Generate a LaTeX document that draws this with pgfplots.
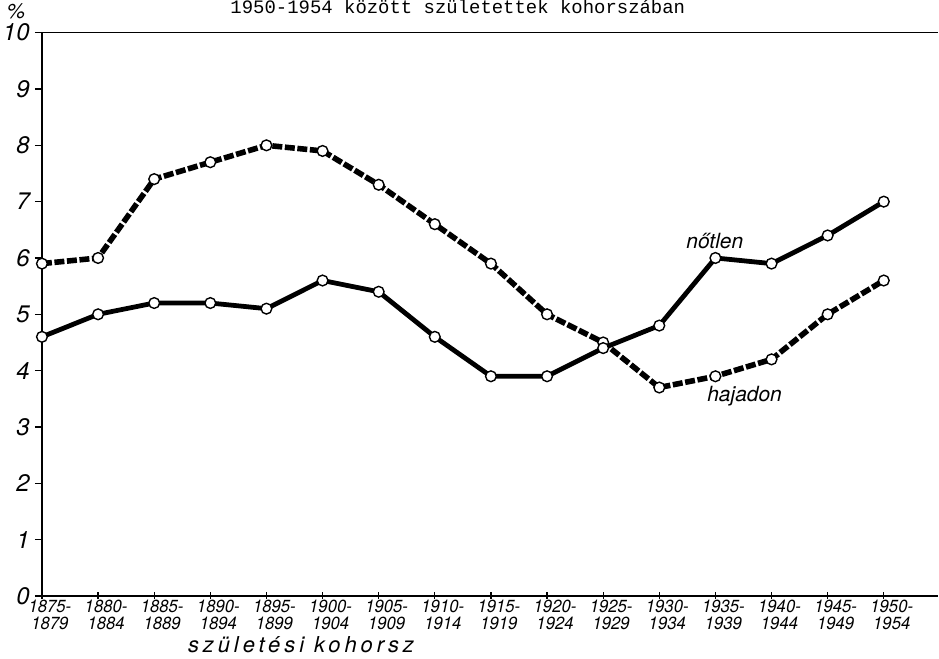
\documentclass[border=0pt]{standalone}
\usepackage{fontspec}
\setmainfont{TeX Gyre Heros}
\setmonofont{Liberation Mono}
\newfontfamily\cond{TeX Gyre Heros}[FakeStretch=0.95]
\newfontfamily\spaced{TeX Gyre Heros}[LetterSpace=18]
\usepackage{pgfplots}
\pgfplotsset{compat=1.18}
\begin{document}
\begin{tikzpicture}
\begin{axis}[
  scale only axis,
  width=449.5pt, height=282.5pt,
  xmin=0, xmax=15.97, ymin=0, ymax=10,
  axis x line*=bottom, axis y line*=left,
  axis line style={-, line width=0.8pt},
  xtick={0,1,...,15},
  xticklabels={{1875-\\1879},{1880-\\1884},{1885-\\1889},{1890-\\1894},{1895-\\1899},{1900-\\1904},{1905-\\1909},{1910-\\1914},{1915-\\1919},{1920-\\1924},{1925-\\1929},{1930-\\1934},{1935-\\1939},{1940-\\1944},{1945-\\1949},{1950-\\1954}},
  x tick label style={font=\cond\itshape\fontsize{8.8}{8.8}\selectfont, align=center, xshift=4pt, yshift=1pt, inner sep=1pt},
  ytick={0,1,...,10},
  y tick label style={font=\itshape\fontsize{12}{12}\selectfont, inner sep=1.5pt, xshift=-1pt},
  /pgf/number format/assume math mode=true,
  x tick style={line width=0.6pt, black},
  y tick style={line width=0.6pt, black},
  xtick align=center, ytick align=outside,
  major tick length=3.5pt,
  clip=false,
]
\addplot[black, line width=2.8pt, dash pattern=on 5pt off 1.3pt,
  mark=*, mark options={solid, fill=white, draw=black, line width=0.7pt, scale=1.35}]
  coordinates {(0,5.9)(1,6.0)(2,7.4)(3,7.7)(4,8.0)(5,7.9)(6,7.3)(7,6.6)(8,5.9)(9,5.0)(10,4.5)(11,3.7)(12,3.9)(13,4.2)(14,5.0)(15,5.6)};
\addplot[black, line width=2.4pt,
  mark=*, mark options={solid, fill=white, draw=black, line width=0.7pt, scale=1.35}]
  coordinates {(0,4.6)(1,5.0)(2,5.2)(3,5.2)(4,5.1)(5,5.6)(6,5.4)(7,4.6)(8,3.9)(9,3.9)(10,4.4)(11,4.8)(12,6.0)(13,5.9)(14,6.4)(15,7.0)};
\draw[line width=0.8pt] (rel axis cs:0,1) -- (rel axis cs:1,1);
\node[font=\itshape\fontsize{10.5}{10}\selectfont] at (axis cs:11.99,6.3) {nőtlen};
\node[font=\itshape\fontsize{10.5}{10}\selectfont] at (axis cs:12.52,3.55) {hajadon};
\node[font=\itshape\fontsize{10.5}{10}\selectfont, anchor=south, inner sep=0pt] at ([xshift=-13pt,yshift=6.5pt]rel axis cs:0,1) {\%};
\node[font=\spaced\itshape\fontsize{11}{10}\selectfont, inner sep=0pt] at ([yshift=-24.5pt]rel axis cs:0.289,0) {születési kohorsz};
\node[font=\ttfamily\fontsize{9.5}{9}\selectfont, anchor=base, inner sep=0pt] at ([yshift=9.5pt]rel axis cs:0.464,1) {1950-1954 között születettek  kohorszában};
\path ([yshift=-31.5pt]rel axis cs:0,0) coordinate (bb);
\end{axis}
\useasboundingbox (bb);
\end{tikzpicture}
\end{document}
